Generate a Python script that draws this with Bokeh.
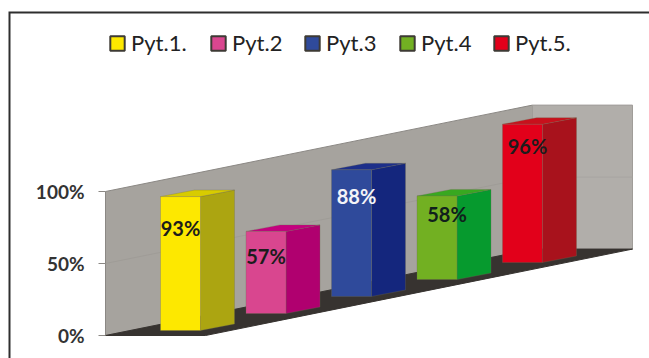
from bokeh.core.properties import value
from bokeh.embed import file_html
from bokeh.models import ColumnDataSource, FixedTicker, Legend, LegendItem, LinearAxis, PrintfTickFormatter
from bokeh.plotting import figure
from bokeh.resources import INLINE

# Survey results, percent answered per question
questions = ["Pyt.1.", "Pyt.2", "Pyt.3", "Pyt.4", "Pyt.5."]
percent = [93, 57, 88, 58, 96]
axis_ticks = [0, 50, 100]

front_colors = ["#fde800", "#d9468f", "#2f4a9b", "#72b022", "#e2001a"]
side_colors = ["#aca511", "#b0006f", "#14267d", "#069a2e", "#a8121c"]
top_colors = ["#d8cc00", "#c4007f", "#1d2f8a", "#38a820", "#c8101c"]
label_colors = ["#1c1c1c", "#1c1c1c", "#f4f4f8", "#10201c", "#1c1c1c"]

# How far each value label sits below its bar top, and its sideways nudge
label_drop = [21.5, 17, 18, 12.5, 15]
label_nudge = [0, 0, 5, 10, 5]

# Left edge of each legend entry, in screen pixels
legend_left = [108, 209, 303, 398, 492]

# Oblique projection of the scene: x is in plot units, y is in percent
PX_PER_PCT = 1.44
ZERO_ROW = 335
HEIGHT = 358
WIDTH = 649
STEP_X, STEP_RISE = 85.5, 17 / PX_PER_PCT
BAR_W, DEPTH_X, DEPTH_RISE = 40, 34, 6.5 / PX_PER_PCT
BAR_X0, BAR_LIFT = 160, 5 / PX_PER_PCT
WALL_L, WALL_CORNER, WALL_R = 105, 532, 632
WALL_RISE = 60
FONT = "Lato"


def corner(i, wide, deep, val):
    """Project a bar corner: across the face (wide), into the scene (deep), at height val."""
    x = BAR_X0 + i * STEP_X + wide * BAR_W + deep * DEPTH_X
    y = val + BAR_LIFT + i * STEP_RISE + deep * DEPTH_RISE
    return x, y


def face(points):
    xs, ys = zip(*points)
    return list(xs), list(ys)


def row_to_pct(row):
    """Convert a pixel row, counted from the top, to the percent scale."""
    return (ZERO_ROW - row) / PX_PER_PCT


p = figure(
    width=WIDTH, height=HEIGHT, output_backend="svg", toolbar_location=None,
    x_range=(0, WIDTH),
    y_range=(row_to_pct(HEIGHT), row_to_pct(0)),
    x_axis_location=None, y_axis_location=None, min_border=0,
    background_fill_color="white", border_fill_color="white", outline_line_color=None,
)
p.grid.visible = False

# Chart frame: only its top and left edges fall inside the page
p.line([9, 9, WIDTH + 10], [row_to_pct(HEIGHT + 10), row_to_pct(12), row_to_pct(12)],
       line_color="#2e2e2e", line_width=2, line_join="miter")

# Walls and floor
p.patch([WALL_L, WALL_CORNER, WALL_CORNER, WALL_L], [0, WALL_RISE, 100 + WALL_RISE, 100],
        fill_color="#a6a39e", line_color="#8b8884", line_width=1)
p.patch([WALL_CORNER, WALL_R, WALL_R, WALL_CORNER], [WALL_RISE, WALL_RISE, 100 + WALL_RISE, 100 + WALL_RISE],
        fill_color="#b1aeaa", line_color="#a09d99", line_width=1)
p.patch([WALL_L, WALL_L + 100, WALL_R, WALL_CORNER], [0, 0, WALL_RISE, WALL_RISE],
        fill_color="#373330", line_color="#373330", line_width=1)

# Gridline at the mid tick, running along both walls
p.line([WALL_L, WALL_CORNER], [50, 50 + WALL_RISE], line_color="#9f9c97", line_width=1)
p.line([WALL_CORNER, WALL_R], [50 + WALL_RISE, 50 + WALL_RISE], line_color="#a8a5a1", line_width=1)

# Bars: one front, side and top face per question
for i, v in enumerate(percent):
    p.patch(*face([corner(i, 1, 0, 0), corner(i, 1, 1, 0), corner(i, 1, 1, v), corner(i, 1, 0, v)]),
            fill_color=side_colors[i], line_color="#6f6b50", line_width=0.6, line_alpha=0.5)
    p.patch(*face([corner(i, 0, 0, v), corner(i, 1, 0, v), corner(i, 1, 1, v), corner(i, 0, 1, v)]),
            fill_color=top_colors[i], line_color="#6f6b50", line_width=0.6, line_alpha=0.5)
    p.patch(*face([corner(i, 0, 0, 0), corner(i, 1, 0, 0), corner(i, 1, 0, v), corner(i, 0, 0, v)]),
            fill_color=front_colors[i], line_color="#6f6b50", line_width=0.6, line_alpha=0.5)

# Value labels on the bars
labels = ColumnDataSource(dict(
    x=[corner(i, 0.5, 0, v)[0] + label_nudge[i] for i, v in enumerate(percent)],
    y=[corner(i, 0.5, 0, v - label_drop[i])[1] for i, v in enumerate(percent)],
    text=[f"{v}%" for v in percent],
    color=label_colors,
))
p.text("x", "y", text="text", source=labels, text_color="color", text_align="center",
       text_baseline="middle", text_font_size="20px", text_font_style="bold", text_font=value(FONT))

# Value axis pinned to the left wall edge
axis = LinearAxis(fixed_location=WALL_L)
axis.ticker = FixedTicker(ticks=axis_ticks)
axis.formatter = PrintfTickFormatter(format="%d%%")
axis.axis_line_color = None
axis.major_tick_line_color = "#8b8884"
axis.major_tick_out = 7
axis.major_tick_in = 0
axis.minor_tick_line_color = None
axis.major_label_text_font = FONT
axis.major_label_text_font_size = "19px"
axis.major_label_text_font_style = "bold"
axis.major_label_text_color = "#333333"
axis.major_label_standoff = 14
p.add_layout(axis, "left")

# One legend per question, each with its own outlined swatch; the swatch
# renderers sit left of the visible range and only feed the legend
for name, color, left in zip(questions, front_colors, legend_left):
    swatch = p.quad(left=[-60], right=[-50], bottom=[0], top=[10],
                    fill_color=color, line_color="#3d3a34", line_width=2)
    p.add_layout(Legend(
        items=[LegendItem(label=name, renderers=[swatch])],
        location=(left, HEIGHT - 56),
        background_fill_alpha=0, border_line_color=None,
        label_text_font=FONT, label_text_font_size="22px", label_text_color="#222222",
        glyph_width=18, glyph_height=18, label_standoff=5, padding=0, margin=0,
    ))

open("out.html", "w").write(file_html(p, INLINE))
